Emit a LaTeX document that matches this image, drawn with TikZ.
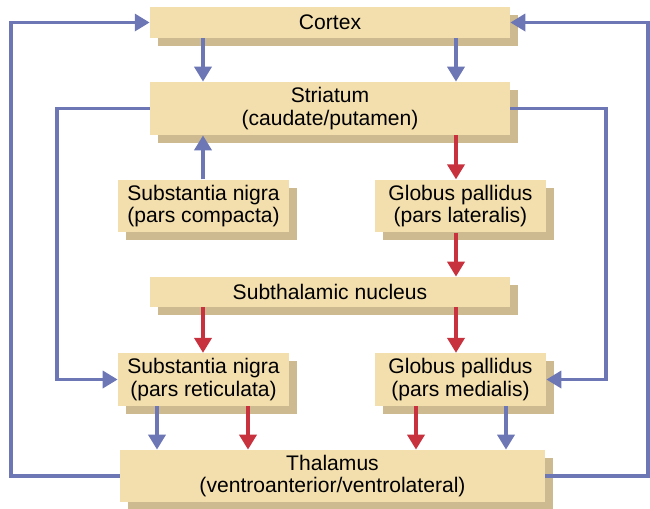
\documentclass[tikz,border=0pt]{standalone}
\usepackage{fontspec}
\setmainfont{Liberation Sans}
\usetikzlibrary{arrows.meta,calc,shadows}
\definecolor{boxtan}{HTML}{F3DFAE}
\definecolor{shadowtan}{HTML}{CDBA90}
\definecolor{pathblue}{HTML}{6D77B6}
\definecolor{pathred}{HTML}{C8323F}

\begin{document}
\begin{tikzpicture}[x=0.02cm,y=-0.02cm,
    nucleus/.style={fill=boxtan, inner sep=0pt, align=center,
      font=\fontsize{12}{13}\selectfont,
      drop shadow={shadow xshift=0.16cm, shadow yshift=-0.16cm, fill=shadowtan, opacity=1}},
    wide/.style={minimum width=7.2cm},
    narrow/.style={minimum width=3.42cm, minimum height=1.05cm},
    excit/.style={pathblue, line width=2.2pt, -{Triangle[width=9.6pt,length=8.5pt]}},
    inhib/.style={pathred, line width=2.2pt, -{Triangle[width=9.6pt,length=8.5pt]}}]
    \useasboundingbox (0,0) rectangle (650,508);

    % Nuclei
    \node[nucleus, wide, minimum height=0.62cm] (cortex) at (330,22.5) {Cortex};
    \node[nucleus, wide, minimum height=1.06cm] (striatum) at (330,108.5) {Striatum\\(caudate/putamen)};
    \node[nucleus, narrow] (snc) at (203.5,206) {Substantia nigra\\(pars compacta)};
    \node[nucleus, narrow] (gpl) at (460.5,206) {Globus pallidus\\(pars lateralis)};
    \node[nucleus, wide, minimum height=0.6cm] (stn) at (330,292) {Subthalamic nucleus};
    \node[nucleus, narrow] (snr) at (203.5,379.5) {Substantia nigra\\(pars reticulata)};
    \node[nucleus, narrow] (gpm) at (460.5,379.5) {Globus pallidus\\(pars medialis)};
    \node[nucleus, minimum width=8.5cm, minimum height=1.04cm] (thal) at (332.5,476) {Thalamus\\(ventroanterior/ventrolateral)};

    % columns for the vertical connectors
    \coordinate (colA) at (203,0);
    \coordinate (colB) at (456,0);
    \coordinate (snrA) at (157,0);
    \coordinate (snrB) at (248,0);
    \coordinate (gpmA) at (416,0);
    \coordinate (gpmB) at (506,0);
    \coordinate (outL) at (11,0);
    \coordinate (innL) at (57,0);
    \coordinate (innR) at (606,0);
    \coordinate (outR) at (648,0);

    % Vertical connectors
    \draw[excit] (cortex.south -| colA) -- (striatum.north -| colA);
    \draw[excit] (cortex.south -| colB) -- (striatum.north -| colB);
    \draw[excit] (snc.north -| colA) -- (striatum.south -| colA);
    \draw[inhib] (striatum.south -| colB) -- (gpl.north -| colB);
    \draw[inhib] (gpl.south -| colB) -- (stn.north -| colB);
    \draw[inhib] (stn.south -| colA) -- (snr.north -| colA);
    \draw[inhib] (stn.south -| colB) -- (gpm.north -| colB);
    \draw[excit] (snr.south -| snrA) -- (thal.north -| snrA);
    \draw[inhib] (snr.south -| snrB) -- (thal.north -| snrB);
    \draw[inhib] (gpm.south -| gpmA) -- (thal.north -| gpmA);
    \draw[excit] (gpm.south -| gpmB) -- (thal.north -| gpmB);

    % Loops round the sides
    \draw[excit] (thal.west) -- (thal.west -| outL) |- (cortex.west);
    \draw[excit] (thal.east) -- (thal.east -| outR) |- (cortex.east);
    \draw[excit] (striatum.west) -- (striatum.west -| innL) |- (snr.west);
    \draw[excit] (striatum.east) -- (striatum.east -| innR) |- (gpm.east);
\end{tikzpicture}
\end{document}
